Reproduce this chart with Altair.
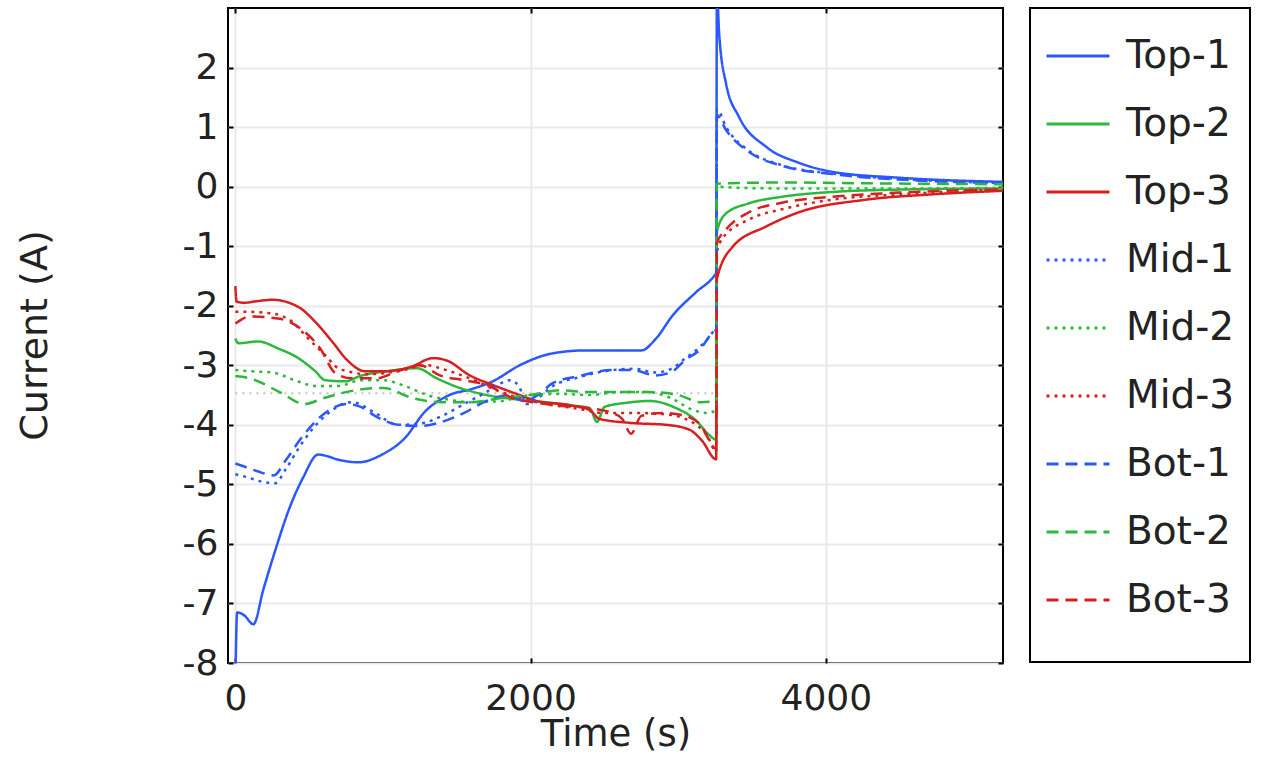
import altair as alt
import pandas as pd

# ---------------- data ----------------
top1_t = [0, 12, 60, 122, 189, 284, 351, 460, 560, 723, 831, 993, 1149, 1284, 1450, 1600, 1743, 1926, 2149, 2378, 2601, 2750, 2850, 2960, 3122, 3243, 3257,
          3262, 3277, 3324, 3412, 3595, 3818, 4041, 4493, 5200]
top1_i = [-8.3, -7.15, -7.2, -7.35, -6.77, -6.0, -5.5, -4.88, -4.5, -4.6, -4.63, -4.5, -4.22, -3.78, -3.5, -3.4, -3.27, -3.0, -2.8, -2.75, -2.75, -2.75, -2.55, -2.17, -1.77, -1.5, -1.45,
          3.3, 2.57, 1.73, 1.17, 0.67, 0.4, 0.25, 0.15, 0.08]

top2_t = [0, 20, 155, 291, 426, 541, 608, 743, 845, 1027, 1230, 1365, 1520, 1703, 1926, 2100, 2300, 2400, 2450, 2500, 2649, 2804, 2986, 3122, 3209, 3257,
          3262, 3324, 3480, 3703, 4041, 4493, 5200]
top2_i = [-2.55, -2.63, -2.6, -2.72, -2.88, -3.1, -3.25, -3.27, -3.18, -3.1, -3.05, -3.22, -3.38, -3.5, -3.58, -3.62, -3.68, -3.72, -3.95, -3.7, -3.63, -3.6, -3.72, -3.93, -4.17, -4.25,
          -0.75, -0.45, -0.28, -0.17, -0.09, -0.05, -0.03]

top3_t = [0, 8, 60, 155, 250, 426, 541, 655, 764, 878, 1014, 1196, 1338, 1432, 1588, 1743, 1926, 2041, 2264, 2400, 2466, 2689, 2919, 3074, 3162, 3257,
          3262, 3365, 3595, 3818, 4270, 4716, 5200]
top3_i = [-1.67, -1.93, -1.95, -1.92, -1.9, -2.02, -2.27, -2.6, -2.93, -3.1, -3.1, -3.02, -2.88, -2.92, -3.17, -3.33, -3.5, -3.6, -3.67, -3.75, -3.9, -3.97, -4.0, -4.08, -4.27, -4.58,
          -1.55, -1.02, -0.67, -0.43, -0.22, -0.13, -0.07]

mid1_t = [0, 80, 170, 270, 340, 453, 608, 791, 946, 1101, 1250, 1400, 1550, 1700, 1800, 1860, 1920, 1975, 2050, 2150, 2331, 2554, 2700, 2850, 2960, 3050, 3142, 3232, 3257,
          3262, 3324, 3480, 3703, 4041, 4493, 5200]
mid1_i = [-4.83, -4.88, -4.95, -4.98, -4.75, -4.3, -3.85, -3.62, -3.8, -4.0, -3.98, -3.85, -3.65, -3.45, -3.3, -3.25, -3.35, -3.65, -3.55, -3.35, -3.2, -3.08, -3.06, -3.12, -3.05, -2.88, -2.7, -2.45, -2.35,
          1.3, 1.0, 0.6, 0.36, 0.22, 0.13, 0.06]

mid2_t = [0, 100, 250, 400, 550, 700, 850, 1000, 1150, 1300, 1450, 1600, 1800, 2000, 2200, 2400, 2600, 2800, 2950, 3100, 3200, 3257,
          3262, 3400, 3700, 4100, 4600, 5200]
mid2_i = [-3.08, -3.1, -3.12, -3.25, -3.35, -3.35, -3.25, -3.25, -3.35, -3.5, -3.58, -3.62, -3.6, -3.5, -3.48, -3.5, -3.45, -3.45, -3.55, -3.75, -3.8, -3.75,
          0.0, -0.02, -0.03, -0.03, -0.03, -0.02]

mid3_t = [0, 60, 250, 385, 493, 608, 696, 757, 900, 1100, 1300, 1385, 1588, 1770, 1926, 2100, 2300, 2500, 2700, 2900, 3074, 3200, 3257,
          3262, 3297, 3480, 3703, 4041, 4493, 5200]
mid3_i = [-2.1, -2.1, -2.13, -2.27, -2.55, -2.83, -3.05, -3.1, -3.15, -3.1, -3.0, -3.05, -3.22, -3.42, -3.55, -3.65, -3.72, -3.8, -3.8, -3.82, -3.93, -4.2, -4.45,
          -1.1, -0.88, -0.55, -0.38, -0.22, -0.13, -0.05]

bot1_t = [0, 60, 150, 260, 340, 453, 608, 750, 850, 946, 1101, 1250, 1400, 1550, 1700, 1850, 1950, 2050, 2149, 2331, 2554, 2691, 2849, 2962, 3052, 3142, 3232, 3257,
          3262, 3324, 3480, 3703, 4041, 4493, 5200]
bot1_i = [-4.65, -4.7, -4.78, -4.85, -4.6, -4.2, -3.8, -3.65, -3.7, -3.85, -4.0, -4.02, -3.95, -3.8, -3.6, -3.5, -3.6, -3.5, -3.3, -3.18, -3.08, -3.08, -3.17, -3.1, -2.9, -2.75, -2.45, -2.4,
          1.2, 0.95, 0.58, 0.35, 0.21, 0.12, 0.06]

bot2_t = [0, 100, 300, 470, 600, 790, 1000, 1200, 1400, 1600, 1800, 2000, 2200, 2400, 2600, 2800, 3000, 3150, 3257,
          3262, 3400, 3700, 4100, 4600, 5200]
bot2_i = [-3.18, -3.22, -3.45, -3.65, -3.55, -3.43, -3.38, -3.55, -3.62, -3.62, -3.55, -3.5, -3.42, -3.45, -3.45, -3.45, -3.5, -3.62, -3.6,
          0.05, 0.06, 0.07, 0.06, 0.05, 0.04]

bot3_t = [0, 100, 300, 440, 575, 676, 790, 950, 1100, 1250, 1385, 1550, 1703, 1878, 2041, 2200, 2400, 2550, 2620, 2680, 2750, 2900, 3050, 3150, 3257,
          3262, 3324, 3480, 3703, 4041, 4493, 5200]
bot3_i = [-2.3, -2.18, -2.22, -2.38, -2.72, -3.13, -3.22, -3.22, -3.1, -3.0, -3.17, -3.25, -3.33, -3.55, -3.63, -3.68, -3.72, -3.8, -3.9, -4.15, -3.85, -3.8, -3.85, -4.0, -4.4,
          -0.95, -0.72, -0.43, -0.27, -0.17, -0.1, -0.05]

ref_t = [0, 3260]
ref_i = [-3.47, -3.47]

series_names = ["Top-1", "Top-2", "Top-3", "Mid-1", "Mid-2", "Mid-3", "Bot-1", "Bot-2", "Bot-3"]
series_data = [(top1_t, top1_i), (top2_t, top2_i), (top3_t, top3_i),
               (mid1_t, mid1_i), (mid2_t, mid2_i), (mid3_t, mid3_i),
               (bot1_t, bot1_i), (bot2_t, bot2_i), (bot3_t, bot3_i)]

BLUE, GREEN, RED = "#2a57ff", "#2cb83c", "#d81e1e"
series_colors = [BLUE, GREEN, RED] * 3
series_dashes = [[1, 0]] * 3 + [[3, 5]] * 3 + [[12, 7]] * 3

rows = []
for name, (ts, vs) in zip(series_names, series_data):
    for k, (t, v) in enumerate(zip(ts, vs)):
        rows.append({"series": name, "t": t, "i": v, "k": k})
df = pd.DataFrame(rows)
ref_df = pd.DataFrame({"t": ref_t, "i": ref_i})

FONT = "DejaVu Sans"
TICK_FS = 36
TITLE_FS = 37
XDOM = [-50, 5200]
YDOM = [-8, 3]

legend = alt.Legend(orient="none", legendX=802, legendY=0, title=" ", titleOrient="bottom",
                    titleFontSize=10, titlePadding=17,
                    symbolType="stroke", symbolSize=3969, symbolStrokeWidth=3,
                    labelFontSize=39, labelFont=FONT, labelColor="#222",
                    labelOffset=15, padding=15, rowPadding=15,
                    strokeColor="black", fillColor="white")

x_bottom = alt.X("t:Q", scale=alt.Scale(domain=XDOM, nice=False, zero=False),
                 axis=alt.Axis(values=[0, 2000, 4000], grid=True, gridColor="#e9e9e9", gridWidth=2,
                               domain=False, ticks=True, tickSize=5, tickWidth=2, tickColor="black",
                               offset=-5, labelFontSize=TICK_FS, labelFont=FONT, labelColor="#222",
                               labelExpr="'' + datum.value",
                               labelPadding=18, title="Time (s)", titleFontSize=TITLE_FS, titleFont=FONT,
                               titleFontWeight="normal", titleColor="#222", titlePadding=0))
y_left = alt.Y("i:Q", scale=alt.Scale(domain=YDOM, nice=False, zero=False),
               axis=alt.Axis(values=list(range(-8, 3)), grid=True, gridColor="#e9e9e9", gridWidth=2,
                             domain=False, ticks=True, tickSize=5, tickWidth=2, tickColor="black",
                             offset=-5, labelFontSize=TICK_FS, labelFont=FONT, labelColor="#222",
                             labelExpr="'' + datum.value",
                             labelPadding=10, title="Current (A)", titleFontSize=38, titleFont=FONT,
                             titleFontWeight="normal", titleColor="#222",
                             titleX=-198, titleY=327, titleAngle=270, titleAlign="center",
                             titleBaseline="middle"))

lines = alt.Chart(df).mark_line(strokeWidth=2.5, clip=True, interpolate="monotone").encode(
    x=x_bottom,
    y=y_left,
    color=alt.Color("series:N", scale=alt.Scale(domain=series_names, range=series_colors),
                    sort=series_names, legend=legend),
    strokeDash=alt.StrokeDash("series:N", scale=alt.Scale(domain=series_names, range=series_dashes),
                              sort=series_names, legend=legend),
    order="k:Q",
)

ref = alt.Chart(ref_df).mark_line(strokeWidth=2, color="#c4c4c4", strokeDash=[2, 5], clip=True).encode(
    x=alt.X("t:Q", scale=alt.Scale(domain=XDOM, nice=False, zero=False),
            axis=alt.Axis(orient="top", values=[0, 2000, 4000], grid=False, labels=False, domain=False,
                          ticks=True, tickSize=5, tickWidth=2, tickColor="black", offset=-5, title=None)),
    y=alt.Y("i:Q", scale=alt.Scale(domain=YDOM, nice=False, zero=False),
            axis=alt.Axis(orient="right", values=list(range(-8, 3)), grid=False, labels=False, domain=False,
                          ticks=True, tickSize=5, tickWidth=2, tickColor="black", offset=-5, title=None)),
)

base = alt.layer(ref, lines).resolve_axis(x="independent", y="independent").properties(
    width=775, height=655,
    autosize=alt.AutoSizeParams(type="none"),
    padding={"left": 228, "top": 8, "right": 258, "bottom": 94},
    background="white",
)

chart = base.configure_view(stroke="black", strokeWidth=2, fill="white")
try:
    trial = base.configure_view(stroke="black", strokeWidth=2, fill="white").configure_legend(strokeWidth=2)
    trial.to_dict()
    chart = trial
except Exception:
    pass

chart.save("out.html", embed_options={"renderer": "svg", "actions": False})
